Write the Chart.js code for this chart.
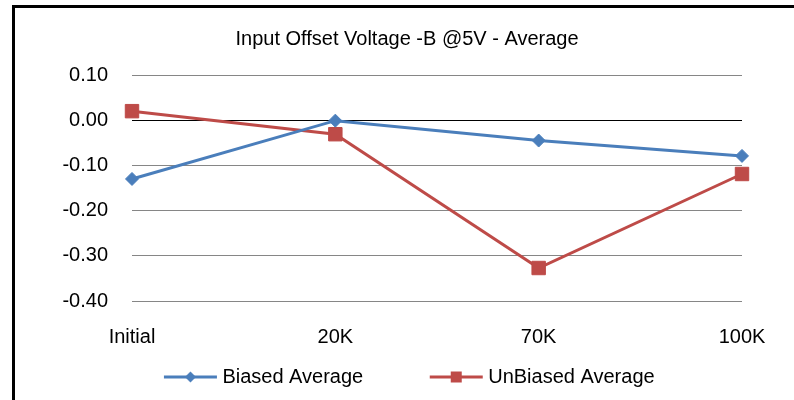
<!DOCTYPE html>
<html>
<head>
<meta charset="utf-8">
<script src="https://cdn.jsdelivr.net/npm/chart.js@4/dist/chart.umd.min.js"></script>
<style>
  html, body { margin: 0; padding: 0; background: #fff; overflow: hidden; }
  #frame {
    position: absolute; left: 12px; top: 5px; width: 900px; height: 500px;
    border-left: 3px solid #000; border-top: 3px solid #000;
  }
  #wrap { position: absolute; left: 0; top: 0; width: 794px; height: 400px; }
</style>
</head>
<body>
<div id="frame"></div>
<div id="wrap"><canvas id="offsetChart"></canvas></div>
<script>
const categories = ['Initial', '20K', '70K', '100K'];
const biasedAverage = [-0.130, -0.001, -0.045, -0.079];
const unbiasedAverage = [0.020, -0.031, -0.327, -0.119];
const seriesNames = ['Biased Average', 'UnBiased Average'];

const blue = '#4a7ebb';
const red = '#be4b48';

Chart.defaults.font.family = '"Liberation Sans", Arial, sans-serif';
Chart.defaults.color = '#000';

// legend icon: a short line with the series marker on it
function legendIcon(color, shape) {
    const c = document.createElement('canvas');
    c.width = 120;
    c.height = 20;
    const g = c.getContext('2d');
    g.strokeStyle = color;
    g.lineWidth = 3;
    g.beginPath();
    g.moveTo(64, 10);
    g.lineTo(117, 10);
    g.stroke();
    g.fillStyle = color;
    g.beginPath();
    if (shape === 'diamond') {
        g.moveTo(90.5, 4.5); g.lineTo(96, 10); g.lineTo(90.5, 15.5); g.lineTo(85, 10);
    } else {
        g.rect(85, 4.5, 11, 11);
    }
    g.closePath();
    g.fill();
    return c;
}
const legendIcons = [legendIcon(blue, 'diamond'), legendIcon(red, 'square')];

// Excel centres the title on the whole chart frame, which runs past the window
const titleShift = {
    id: 'titleShift',
    afterLayout(chart) {
        chart.titleBlock.left += 26;
        chart.titleBlock.right += 26;
    }
};

const ctx = document.getElementById('offsetChart').getContext('2d');
new Chart(ctx, {
    type: 'line',
    data: {
        labels: categories,
        datasets: [{
            label: seriesNames[0],
            data: biasedAverage,
            borderColor: blue,
            backgroundColor: blue,
            borderWidth: 3,
            pointStyle: 'rectRot',
            pointRadius: 6.5,
            pointBorderWidth: 1,
            pointHoverRadius: 6.5,
            tension: 0,
            clip: false
        }, {
            label: seriesNames[1],
            data: unbiasedAverage,
            borderColor: red,
            backgroundColor: red,
            borderWidth: 3,
            pointStyle: 'rect',
            pointRadius: 9.5,
            pointBorderWidth: 1,
            pointHoverRadius: 9.5,
            tension: 0,
            clip: false
        }]
    },
    plugins: [titleShift],
    options: {
        responsive: true,
        maintainAspectRatio: false,
        animation: false,
        layout: { padding: { left: 20, right: 52, top: 0, bottom: 3 } },
        plugins: {
            title: {
                display: true,
                text: 'Input Offset Voltage -B @5V - Average',
                color: '#000',
                font: { size: 20, weight: 'normal' },
                padding: { top: 27, bottom: 24 }
            },
            legend: {
                position: 'bottom',
                labels: {
                    usePointStyle: true,
                    pointStyleWidth: 105,
                    color: '#000',
                    font: { size: 20 },
                    padding: 10,
                    generateLabels(chart) {
                        const items = Chart.defaults.plugins.legend.labels.generateLabels(chart);
                        items.forEach((it, i) => { it.pointStyle = legendIcons[i]; });
                        return items;
                    }
                }
            },
            tooltip: { enabled: false }
        },
        scales: {
            x: {
                offset: false,
                grid: { display: false, drawTicks: false },
                border: { display: false },
                ticks: { font: { size: 20 }, color: '#000', padding: 24, maxRotation: 0 },
                afterFit(scale) { scale.height = 56; }
            },
            y: {
                min: -0.4,
                max: 0.1,
                grid: {
                    drawTicks: false,
                    lineWidth: 1,
                    color: c => Math.abs(c.tick.value) < 1e-9 ? '#000' : '#868686'
                },
                border: { display: false },
                ticks: {
                    stepSize: 0.1,
                    font: { size: 20 },
                    color: '#000',
                    padding: 24,
                    callback: v => (Math.abs(v) < 1e-9 ? 0 : v).toFixed(2)
                },
                afterFit(scale) { scale.width = 112; }
            }
        }
    }
});
</script>
</body>
</html>
